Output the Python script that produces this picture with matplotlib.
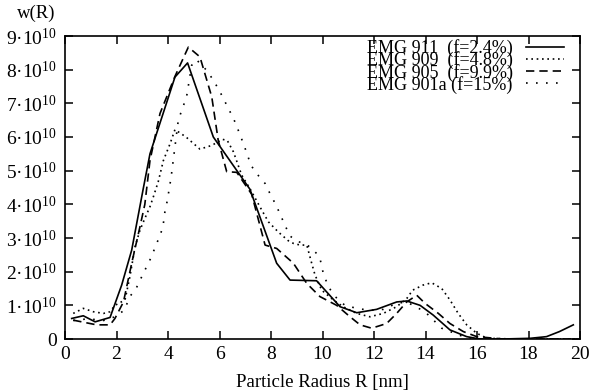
import matplotlib
matplotlib.use("Agg")
import matplotlib.pyplot as plt
from matplotlib.ticker import FuncFormatter

plt.rcParams["font.family"] = ["Liberation Serif", "DejaVu Serif"]
plt.rcParams["mathtext.fontset"] = "custom"
plt.rcParams["mathtext.rm"] = "Liberation Serif"
plt.rcParams["mathtext.it"] = "Liberation Serif:italic"

# radius in nm, w(R) in units of 1e10
r_911 = [0.26, 0.71, 1.17, 1.75, 2.2, 2.59, 3.04, 3.3, 4.27, 4.76, 5.76, 7.18, 8.22, 8.74,
         9.77, 10.68, 11.33, 12.1, 12.88, 13.27, 13.79, 14.3, 14.95, 15.6, 16.1, 17.0, 18.06,
         18.7, 19.2, 19.74]
w_911 = [0.61, 0.69, 0.51, 0.64, 1.6, 2.64, 4.47, 5.5, 7.78, 8.2, 6.0, 4.45, 2.25, 1.75,
         1.73, 0.96, 0.78, 0.88, 1.1, 1.13, 1.0, 0.71, 0.27, 0.07, 0.0, 0.0, 0.02,
         0.07, 0.22, 0.42]

r_909 = [0.32, 0.71, 1.1, 1.49, 1.75, 1.94, 2.33, 2.52, 2.72, 2.91, 3.1, 3.3, 3.43, 3.62,
         3.82, 4.08, 4.27, 4.7, 5.24, 5.7, 6.11, 6.3, 6.54, 6.86, 7.18, 7.64, 7.9, 8.28,
         8.67, 8.87, 9.13, 9.39, 9.58, 9.71, 9.97, 10.42, 10.8, 11.33, 11.84, 12.36, 12.88,
         13.27, 13.5, 13.9, 14.24, 14.63, 14.95, 15.27, 15.6, 15.99, 16.4, 17.5, 18.5, 19.5, 19.9]
w_909 = [0.76, 0.91, 0.81, 0.76, 0.81, 1.0, 1.16, 1.85, 2.74, 3.23, 3.58, 3.93, 4.22, 4.67,
         5.3, 5.8, 6.22, 6.0, 5.64, 5.75, 5.93, 5.9, 5.56, 4.87, 4.47, 3.83, 3.48, 3.18,
         2.92, 2.84, 2.79, 2.79, 2.25, 1.9, 1.45, 1.16, 0.96, 0.76, 0.66, 0.76, 0.96,
         1.2, 1.45, 1.6, 1.67, 1.5, 1.16, 0.76, 0.42, 0.17, 0.02, 0.0, 0.0, 0.0, 0.0]

r_905 = [0.32, 1.23, 1.75, 1.94, 2.27, 2.59, 2.91, 3.1, 3.3, 3.69, 4.27, 4.79, 5.24, 5.7,
         5.95, 6.28, 6.67, 7.25, 7.77, 8.22, 8.87, 9.39, 9.9, 10.55, 11.07, 11.46, 11.91,
         12.49, 12.88, 13.27, 13.66, 13.98, 14.5, 14.95, 15.47, 15.99, 17, 18, 19, 19.9]
w_905 = [0.56, 0.42, 0.42, 0.61, 1.1, 2.25, 3.33, 4.0, 5.3, 6.7, 7.8, 8.67, 8.38, 7.19,
         5.9, 4.97, 4.95, 4.3, 2.79, 2.69, 2.25, 1.65, 1.26, 1.0, 0.66, 0.42, 0.32,
         0.46, 0.76, 1.1, 1.3, 1.06, 0.76, 0.46, 0.22, 0.07, 0.0, 0.0, 0.0, 0.0]

r_901a = [0.32, 0.9, 1.5, 1.9, 2.3, 2.52, 2.78, 2.98, 3.17, 3.37, 3.53, 3.71, 3.82, 3.88,
          3.97, 4.12, 4.4, 4.57, 4.72, 4.92, 5.1, 5.5, 5.76, 6.02, 6.41, 6.6, 6.77, 6.93,
          7.08, 7.22, 7.47, 7.77, 7.96, 8.18, 8.36, 8.54, 8.74, 9.0, 9.32, 9.58, 9.77, 9.9,
          10.03, 10.23, 10.49, 10.87, 11.33, 11.84, 12.36, 12.88, 13.27, 13.98, 14.63,
          15.47, 16.0, 17, 18, 19, 19.9]
w_901a = [0.55, 0.6, 0.55, 0.65, 0.85, 1.26, 1.53, 1.85, 2.15, 2.46, 2.79, 3.1, 3.43, 3.78,
          4.1, 4.8, 6.5, 6.87, 7.19, 8.13, 8.3, 7.98, 7.69, 7.34, 6.75, 6.45, 6.12, 5.8,
          5.48, 5.16, 4.89, 4.62, 4.32, 4.0, 3.7, 3.38, 3.06, 2.9, 2.84, 2.69, 2.54, 2.4,
          1.95, 1.55, 1.26, 1.0, 0.91, 0.85, 0.88, 1.06, 1.1, 0.81, 0.32,
          0.07, 0.0, 0.0, 0.0, 0.0, 0.0]

labels = ["EMG 911  (f=2.4%)", "EMG 909  (f=4.8%)", "EMG 905  (f=9.9%)", "EMG 901a (f=15%)"]
x_ticks = [0, 2, 4, 6, 8, 10, 12, 14, 16, 18, 20]
y_ticks = [0, 1, 2, 3, 4, 5, 6, 7, 8, 9]


def y_fmt(v, pos):
    if v == 0:
        return "0"
    return f"{int(v)}\u00b710$^{{10}}$"


fig = plt.figure(figsize=(6.06, 3.90), dpi=100)
ax = fig.add_axes([65 / 606, 1 - 339 / 390, (580 - 65) / 606, (339 - 36) / 390])

series = [(r_911, w_911, "-"), (r_909, w_909, (0, (1, 2.2))),
          (r_905, w_905, (0, (5, 3))), (r_901a, w_901a, (0, (1, 5)))]
for (r, w, ls), lab in zip(series, labels):
    ax.plot(r, w, color="black", lw=1.2, ls=ls, label=lab)

ax.set_xlim(0, 20)
ax.set_ylim(0, 9)
ax.set_xticks(x_ticks)
ax.set_yticks(y_ticks)
ax.yaxis.set_major_formatter(FuncFormatter(y_fmt))
ax.tick_params(direction="in", top=True, right=True, length=6, width=1.1, labelsize=14)
ax.tick_params(axis="y", pad=6)
ax.tick_params(axis="x", pad=5)
for s in ax.spines.values():
    s.set_linewidth(1.2)

ax.set_xlabel("Particle Radius R [nm]", fontsize=13.5, labelpad=8)
fig.text(36 / 606, 1 - 13 / 390, "w(R)", fontsize=13.5, ha="center", va="center")

ax.legend(loc="upper right", bbox_to_anchor=(0.99, 1.025), frameon=False, fontsize=13,
          markerfirst=False, handlelength=2.1, handletextpad=0.75, labelspacing=-0.32,
          borderaxespad=0.2)

fig.savefig("out.png", dpi=100)
